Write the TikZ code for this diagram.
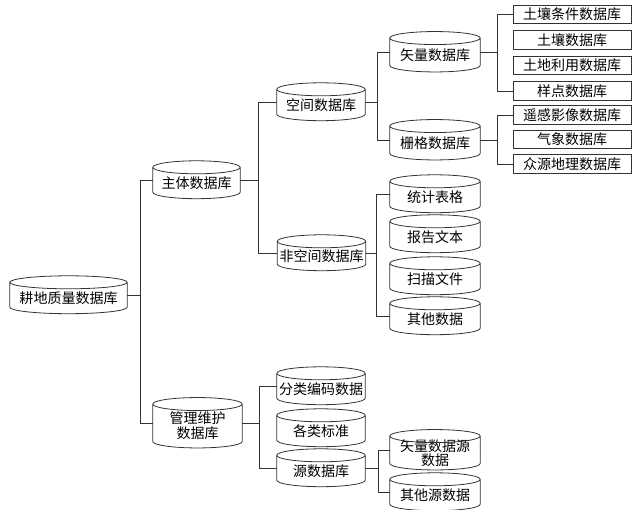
\documentclass[tikz,border=0pt]{standalone}
\usepackage{fontspec}
\newfontfamily\cjk{Noto Sans CJK SC}
\usetikzlibrary{calc}

\tikzset{
    dbline/.style={line width=0.8pt, black!80},
    db/.style={minimum width=88pt, minimum height=31pt, inner sep=0pt, align=center,
        font=\cjk\fontsize{14}{15}\selectfont},
    tbox/.style={draw, line width=0.8pt, black!80, text=black, minimum width=118pt,
        minimum height=18.5pt, inner sep=0pt, font=\cjk\fontsize{14}{15}\selectfont},
}

\begin{document}
\begin{tikzpicture}[x=1pt, y=-1pt]
    \useasboundingbox (0,0) rectangle (636,510);

    % Database bodies (cylinders drawn below)
    \node[db, minimum width=117pt] (root) at (68.5,298) {耕地质量数据库};
    \node[db, minimum width=87pt] (main) at (196.5,183) {主体数据库};
    \node[db, minimum height=43.5pt, minimum width=89pt] (mgmt) at (197.5,426) {管理维护\\数据库};

    \node[db] (spa) at (321,105) {空间数据库};
    \node[db, minimum height=29pt] (nspa) at (321.5,256) {非空间数据库};

    \node[db, minimum width=90pt, minimum height=33.5pt] (vec) at (435,55) {矢量数据库};
    \node[db, minimum width=90pt, minimum height=33.5pt] (ras) at (435,143) {栅格数据库};

    \node[db, minimum width=90pt] (stat) at (435,197) {统计表格};
    \node[db, minimum width=90pt] (rep) at (435,237) {报告文本};
    \node[db, minimum width=90pt] (scan) at (435,279) {扫描文件};
    \node[db, minimum width=90pt] (oth) at (435,319) {其他数据};

    \node[db] (code) at (321,389) {分类编码数据};
    \node[db] (std) at (321,431) {各类标准};
    \node[db] (src) at (321,471) {源数据库};

    \node[db, minimum width=90pt, minimum height=33.5pt,
        font=\cjk\fontsize{14}{13.5}\selectfont] (vsrc) at (435,453) {矢量数据源\\数据};
    \node[db, minimum width=90pt] (osrc) at (435,495) {其他源数据};

    % Draw the cylinders around the bodies
    \foreach \d in {root,main,mgmt,spa,nspa,vec,ras,stat,rep,scan,oth,code,std,src,vsrc,osrc}
        {
            \draw[dbline] let \p1=(\d.west), \p2=(\d.east) in
            (\d.north west) -- ([yshift=6.5pt]\d.south west)
            arc[start angle=180, end angle=360, x radius={(\x2-\x1)/2}, y radius=6.5pt]
            -- (\d.north east)
            (\d.north) ellipse [x radius={(\x2-\x1)/2}, y radius=6.5pt];
        }

    % Table boxes
    \node[tbox] (soilc) at (572,14.5) {土壤条件数据库};
    \node[tbox] (soil) at (572,40) {土壤数据库};
    \node[tbox] (land) at (572,65.5) {土地利用数据库};
    \node[tbox] (samp) at (572,91) {样点数据库};
    \node[tbox] (rs) at (572,115) {遥感影像数据库};
    \node[tbox] (met) at (572,139.5) {气象数据库};
    \node[tbox] (vgi) at (572,164) {众源地理数据库};

    % Tree connectors
    \draw[dbline] ([yshift=3pt]root.east) -- ++(13,0) |- ([yshift=3pt]main.west);
    \draw[dbline] ([yshift=3pt]root.east) -- ++(13,0) |- ([yshift=3pt]mgmt.west);

    \draw[dbline] ([yshift=3pt]main.east) -- ++(18,0) |- ([yshift=3pt]spa.west);
    \draw[dbline] ([yshift=3pt]main.east) -- ++(18,0) |- ([yshift=3pt]nspa.west);

    \draw[dbline] ([yshift=3pt]spa.east) -- ++(12,0) |- ([yshift=3pt]vec.west);
    \draw[dbline] ([yshift=3pt]spa.east) -- ++(12,0) |- ([yshift=3pt]ras.west);

    \draw[dbline] ([yshift=3pt]nspa.east) -- ++(11,0) |- ([yshift=3pt]stat.west);
    \draw[dbline] ([yshift=3pt]nspa.east) -- ++(11,0) |- ([yshift=3pt]oth.west);

    \draw[dbline] ([yshift=3pt]vec.east) -- ++(17,0) |- (soilc.west);
    \draw[dbline] ([yshift=3pt]vec.east) -- ++(17,0) |- (samp.west);

    \draw[dbline] ([yshift=3pt]ras.east) -- ++(17,0) |- (rs.west);
    \draw[dbline] ([yshift=3pt]ras.east) -- ++(17,0) |- (vgi.west);

    \draw[dbline] ([yshift=3pt]mgmt.east) -- ++(17,0) |- ([yshift=3pt]code.west);
    \draw[dbline] ([yshift=3pt]mgmt.east) -- ++(17,0) |- ([yshift=3pt]src.west);

    \draw[dbline] ([yshift=3pt]src.east) -- ++(13,0) |- ([yshift=3pt]vsrc.west);
    \draw[dbline] ([yshift=3pt]src.east) -- ++(13,0) |- ([yshift=3pt]osrc.west);

\end{tikzpicture}
\end{document}
